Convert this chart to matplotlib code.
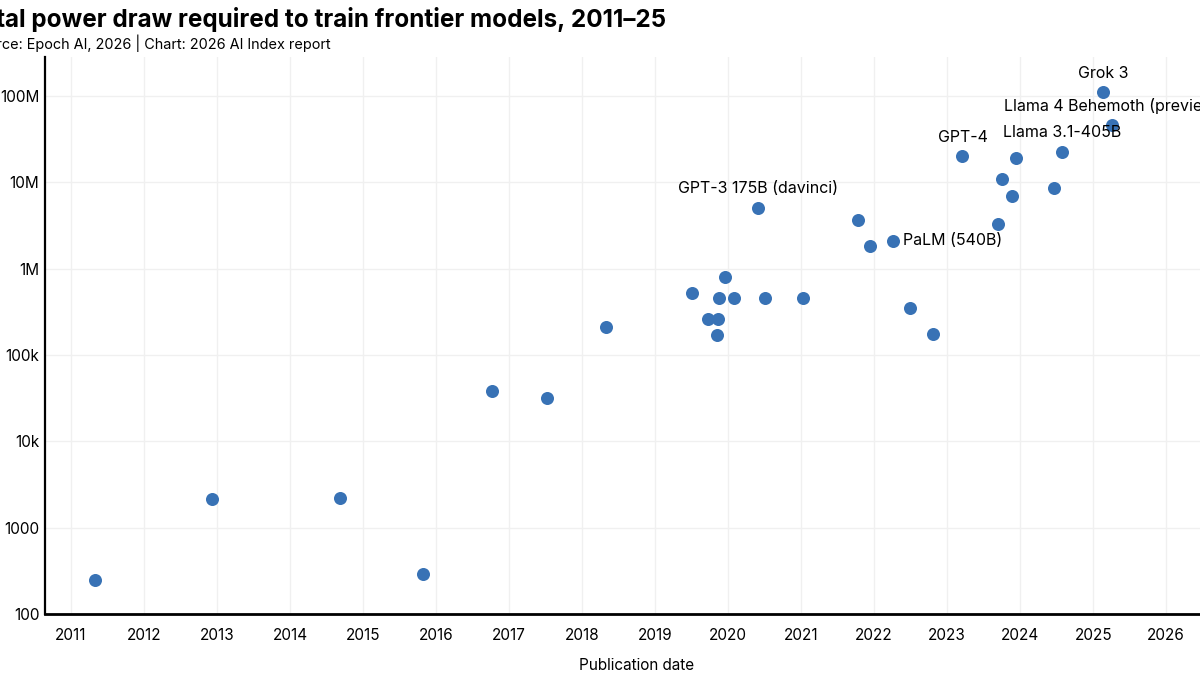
import matplotlib
matplotlib.use("Agg")
import matplotlib.pyplot as plt
import numpy as np

plt.rcParams['font.family'] = ['Inter', 'DejaVu Sans']

title = "Total power draw required to train frontier models, 2011–25"
subtitle = "Source: Epoch AI, 2026 | Chart: 2026 AI Index report"
x_label = "Publication date"

years = [2011.33, 2012.93, 2014.68, 2015.82, 2016.77, 2017.52, 2018.33,
         2019.50, 2019.96, 2019.87, 2020.08, 2020.51, 2021.03, 2019.72,
         2019.86, 2019.85, 2020.41, 2021.78, 2021.95, 2022.26, 2022.49,
         2022.81, 2023.21, 2023.69, 2023.75, 2023.89, 2023.94, 2024.46,
         2024.57, 2025.14, 2025.26]
power_w = [248, 2150, 2210, 291, 38.4e3, 31.9e3, 212e3,
           528e3, 798e3, 462e3, 462e3, 462e3, 462e3, 262e3,
           260e3, 171e3, 5.07e6, 3.68e6, 1.84e6, 2.12e6, 349e3,
           175e3, 20.1e6, 3.28e6, 11.0e6, 6.98e6, 19.2e6, 8.57e6,
           22.8e6, 111e6, 46.4e6]

labels = {16: "GPT-3 175B (davinci)", 22: "GPT-4", 28: "Llama 3.1-405B",
          29: "Grok 3", 30: "Llama 4 Behemoth (preview)"}
right_labels = {19: "PaLM (540B)"}

x_ticks = list(range(2011, 2027))
y_ticks = [100, 1000, 1e4, 1e5, 1e6, 1e7, 1e8]
y_ticklabels = ["100", "1000", "10k", "100k", "1M", "10M", "100M"]

W, H = 1200, 675
fig = plt.figure(figsize=(12, 6.75), dpi=100)
ax = fig.add_axes([45 / W, 1 - 614 / H, (1229 - 45) / W, (614 - 57) / H])

color = "#3872b5"
ax.scatter(years, power_w, s=88, color=color, zorder=3, linewidths=0)

ax.set_yscale("log")
ax.set_xlim(2010.644, 2026.86)
ax.set_ylim(100, 10 ** 8.454)
ax.set_xticks(x_ticks)
ax.set_xticklabels([str(t) for t in x_ticks])
ax.set_yticks(y_ticks)
ax.set_yticklabels(y_ticklabels)
ax.yaxis.set_minor_locator(matplotlib.ticker.NullLocator())

ax.tick_params(axis='both', length=0, labelsize=11, colors='black')
ax.tick_params(axis='x', pad=10)
ax.tick_params(axis='y', pad=4)
ax.grid(True, color="#f0f0f0", linewidth=1)
ax.set_axisbelow(True)
for s in ['top', 'right']:
    ax.spines[s].set_visible(False)
ax.spines['left'].set_linewidth(1.6)
ax.spines['bottom'].set_linewidth(2.0)
for s in ['left', 'bottom']:
    ax.spines[s].set_color('black')

ax.set_xlabel(x_label, fontsize=11, labelpad=11)

for i, txt in labels.items():
    ax.annotate(txt, (years[i], power_w[i]), xytext=(0, 13.7),
                textcoords='offset points', ha='center', va='center',
                fontsize=11.5, color='black')
for i, txt in right_labels.items():
    ax.annotate(txt, (years[i], power_w[i]), xytext=(7, 0),
                textcoords='offset points', ha='left', va='center',
                fontsize=11.5, color='black')

fig.text(-35 / W, 1 - 27 / H, title, fontsize=17.45, fontweight='bold',
         ha='left', va='baseline')
fig.text(-30 / W, 1 - 49 / H, subtitle, fontsize=10.4, ha='left',
         va='baseline')

fig.savefig("out.png", dpi=100)
